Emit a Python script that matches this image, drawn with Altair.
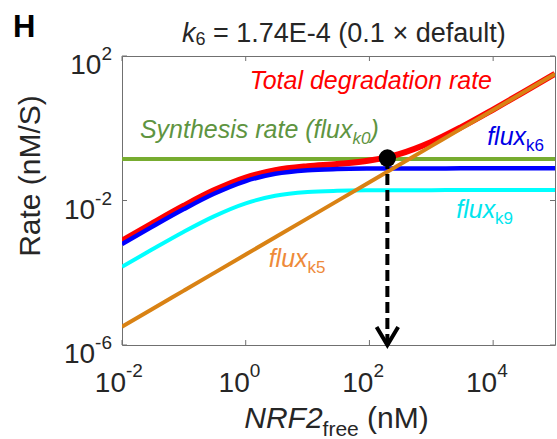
import altair as alt
import pandas as pd

# ---------------- data ----------------
nrf2 = [0.01, 0.03, 0.1, 0.3, 1, 3, 10, 30, 100, 300, 1000, 3000, 1e4, 3e4, 1e5]
flux_k6 = [6.2e-4, 1.83e-3, 5.78e-3, 0.0151, 0.0346, 0.0548, 0.0690, 0.0744, 0.0766,
           0.0772, 0.0774, 0.0775, 0.0775, 0.0775, 0.0775]
flux_k9 = [1.46e-4, 4.31e-4, 1.37e-3, 3.59e-3, 8.36e-3, 0.01347, 0.01714, 0.01858,
           0.01915, 0.01931, 0.01937, 0.0194, 0.0194, 0.0194, 0.0194]
flux_k5 = [3.2e-6, 9.6e-6, 3.2e-5, 9.6e-5, 3.2e-4, 9.6e-4, 3.2e-3, 9.6e-3, 0.032,
           0.096, 0.32, 0.96, 3.2, 9.6, 32]
total = [7.69e-4, 2.27e-3, 7.18e-3, 0.0188, 0.0433, 0.0692, 0.0893, 0.1026, 0.1278,
         0.1925, 0.417, 1.057, 3.297, 9.70, 32.1]
synth_x = [0.01, 1e5]
synth_y = [0.14, 0.14]
steady_x = [195]
steady_y = [0.15]
arrow_end_y = [1e-6]

x_ticks = [0.01, 1, 100, 1e4]
x_exps = ["-2", "0", "2", "4"]
y_ticks = [1e-6, 1e-2, 1e2]
y_exps = ["-6", "-2", "2"]

# annotation anchors (data coordinates)
lab_total = (1.16, 12.2)
lab_synth = (0.0195, 0.536)
lab_k6 = (8000, 0.343)
lab_k9 = (2530, 0.00325)
lab_k5 = (2.35, 1.43e-4)

# ---------------- helpers ----------------
FONT = "Liberation Sans"
W, H = 433, 289
xs = alt.Scale(type="log", domain=[0.01, 1e5])
ys = alt.Scale(type="log", domain=[1e-6, 100])

AW = {" ": 278, "(": 333, ")": 333, "-": 333, ".": 278, "/": 278, "=": 584,
      "×": 584, "E": 667, "F": 611, "H": 722, "M": 833, "N": 722, "R": 722, "S": 667,
      "T": 611, "a": 556, "d": 556, "e": 556, "f": 278, "g": 556, "h": 556, "i": 222,
      "k": 500, "l": 222, "n": 556, "o": 556, "r": 333, "s": 500, "t": 278, "u": 556,
      "x": 500, "y": 500}


def tw(s, size):
    return sum(AW.get(c, 556) for c in s) * size / 1000.0


one = pd.DataFrame({"a": [0]})


def curve(xv, yv, color, width):
    df = pd.DataFrame({"x": xv, "y": yv})
    return alt.Chart(df).mark_line(color=color, strokeWidth=width, clip=True,
                                   interpolate="monotone").encode(
        x=alt.X("x:Q", scale=xs, axis=None),
        y=alt.Y("y:Q", scale=ys, axis=None))


def ptext(text, px, py, size, color="#262626", italic=False, bold=False,
          align="left", angle=0):
    kw = dict(text=text, font=FONT, fontSize=size, color=color, align=align,
              baseline="alphabetic")
    if italic:
        kw["fontStyle"] = "italic"
    if bold:
        kw["fontWeight"] = "bold"
    if angle:
        kw["angle"] = angle
    return alt.Chart(one).mark_text(**kw).encode(x=alt.value(px), y=alt.value(py))


def dtext(text, xy, size, color, italic=False, dx=0, dy=0):
    df = pd.DataFrame({"x": [xy[0]], "y": [xy[1]]})
    kw = dict(text=text, font=FONT, fontSize=size, color=color, align="left",
              baseline="alphabetic", dx=dx, dy=dy)
    if italic:
        kw["fontStyle"] = "italic"
    return alt.Chart(df).mark_text(**kw).encode(
        x=alt.X("x:Q", scale=xs, axis=None), y=alt.Y("y:Q", scale=ys, axis=None))


def label_with_sub(main, sub, xy, color, sub_italic=False, tail=""):
    s_main, s_sub = 25, 17
    w1 = tw(main, s_main)
    out = [dtext(main, xy, s_main, color, italic=True),
           dtext(sub, xy, s_sub, color, italic=sub_italic, dx=w1, dy=6)]
    if tail:
        out.append(dtext(tail, xy, s_main, color, italic=True, dx=w1 + tw(sub, s_sub)))
    return out


layers = []

# curves
layers.append(curve(synth_x, synth_y, "#77AC30", 4))
layers.append(curve(nrf2, total, "#FF0000", 6))
layers.append(curve(nrf2, flux_k6, "#0000FF", 4.5))
layers.append(curve(nrf2, flux_k9, "#00FFFF", 4))
layers.append(curve(nrf2, flux_k5, "#D98214", 4))

# dashed drop line with arrow head, steady-state dot
drop = pd.DataFrame({"x": steady_x, "y": steady_y, "y2": arrow_end_y})
layers.append(alt.Chart(drop).mark_rule(color="black", strokeWidth=4,
                                        strokeDash=[11, 5]).encode(
    x=alt.X("x:Q", scale=xs, axis=None), y=alt.Y("y:Q", scale=ys, axis=None),
    y2="y2:Q"))
head = pd.DataFrame({"x": steady_x, "y": arrow_end_y})
layers.append(alt.Chart(head).mark_point(shape="M-0.6,-1L0,0L0.6,-1", filled=False,
                                         size=1296, strokeWidth=4, color="black",
                                         opacity=1).encode(
    x=alt.X("x:Q", scale=xs, axis=None), y=alt.Y("y:Q", scale=ys, axis=None)))
dot = pd.DataFrame({"x": steady_x, "y": steady_y})
layers.append(alt.Chart(dot).mark_point(shape="circle", filled=True, size=300,
                                        color="black", opacity=1).encode(
    x=alt.X("x:Q", scale=xs, axis=None), y=alt.Y("y:Q", scale=ys, axis=None)))

# inward ticks (box style)
TC = "#707070"
xt = pd.DataFrame({"x": x_ticks})
for y0, y1 in [(H, H - 5), (0, 5)]:
    layers.append(alt.Chart(xt).mark_rule(color=TC, strokeWidth=1).encode(
        x=alt.X("x:Q", scale=xs, axis=None), y=alt.value(y0), y2=alt.value(y1)))
yt = pd.DataFrame({"y": y_ticks})
for x0, x1 in [(0, 5), (W, W - 5)]:
    layers.append(alt.Chart(yt).mark_rule(color=TC, strokeWidth=1).encode(
        y=alt.Y("y:Q", scale=ys, axis=None), x=alt.value(x0), x2=alt.value(x1)))

# x tick labels 10^n
xl = pd.DataFrame({"x": x_ticks, "e": x_exps})
layers.append(alt.Chart(xl).mark_text(text="10", font=FONT, fontSize=28, color="#262626",
                                      align="right", baseline="alphabetic", dx=4,
                                      dy=47).encode(
    x=alt.X("x:Q", scale=xs, axis=None), y=alt.value(H)))
layers.append(alt.Chart(xl).mark_text(font=FONT, fontSize=19, color="#262626",
                                      align="left", baseline="alphabetic", dx=4,
                                      dy=32).encode(
    x=alt.X("x:Q", scale=xs, axis=None), y=alt.value(H), text="e:N"))

# y tick labels 10^n (whole label right-aligned)
for t, e in zip(y_ticks, y_exps):
    d = pd.DataFrame({"y": [t]})
    right = -10
    layers.append(alt.Chart(d).mark_text(text=e, font=FONT, fontSize=19, color="#262626",
                                         align="right", baseline="alphabetic",
                                         dy=4).encode(
        y=alt.Y("y:Q", scale=ys, axis=None), x=alt.value(right)))
    layers.append(alt.Chart(d).mark_text(text="10", font=FONT, fontSize=28,
                                         color="#262626", align="right",
                                         baseline="alphabetic", dy=18).encode(
        y=alt.Y("y:Q", scale=ys, axis=None), x=alt.value(right - tw(e, 19))))

# axis titles
tail_x = "(nM)"
sp30 = tw(" ", 30)
xt0 = 214.5 - (tw("NRF2", 30) + tw("free", 21) + sp30 + tw(tail_x, 30)) / 2
layers.append(ptext("NRF2", xt0, 372, 30, italic=True))
layers.append(ptext("free", xt0 + tw("NRF2", 30), 380, 21))
layers.append(ptext(tail_x, xt0 + tw("NRF2", 30) + tw("free", 21) + sp30, 372, 30))
layers.append(ptext("Rate (nM/S)", -82, 120, 30, align="center", angle=270))

# panel letter and title
layers.append(ptext("H", -109, -19, 31, color="black", bold=True))
tx = 60
title_tail = "= 1.74E-4 (0.1 × default)"
layers.append(ptext("k", tx, -14, 27, italic=True))
layers.append(ptext("6", tx + tw("k", 27), -11, 18))
layers.append(ptext(title_tail, tx + tw("k", 27) + tw("6", 18) + tw(" ", 27), -14, 27))

# annotations
layers.append(dtext("Total degradation rate", lab_total, 25, "#FF0000", italic=True))
layers += label_with_sub("Synthesis rate (flux", "k0", lab_synth, "#5E9441",
                         sub_italic=True, tail=")")
layers += label_with_sub("flux", "k6", lab_k6, "#0000E6")
layers += label_with_sub("flux", "k9", lab_k9, "#00E5EE")
layers += label_with_sub("flux", "k5", lab_k5, "#EE8A3A")

chart = alt.layer(*layers).properties(
    width=W, height=H,
    autosize=alt.AutoSizeParams(type="none"),
    padding={"left": 122, "top": 56, "right": 2, "bottom": 94},
    background="white",
).configure_view(stroke=TC, strokeWidth=1)

chart.save("out.html", embed_options={"renderer": "svg", "actions": False})
